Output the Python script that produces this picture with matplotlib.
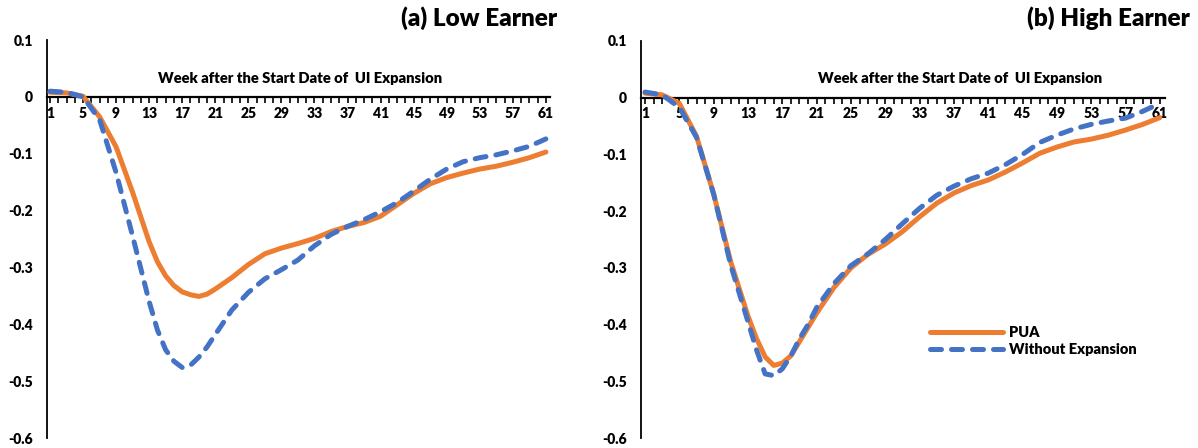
import matplotlib
matplotlib.use("Agg")
import matplotlib.pyplot as plt

plt.rcParams['font.family'] = ['Lato', 'DejaVu Sans']
plt.rcParams['font.weight'] = 'heavy'

# weeks (odd weeks, plus every week around the trough)
weeks = [1, 3, 5, 7, 9, 11, 13, 14, 15, 16, 17, 18, 19, 20, 21,
         23, 25, 27, 29, 31, 33, 35, 37, 39, 41, 43, 45, 47, 49,
         51, 53, 55, 57, 59, 61]

low_pua = [0.008, 0.007, 0.001, -0.035, -0.088, -0.168, -0.255, -0.29, -0.315,
           -0.332, -0.343, -0.348, -0.351, -0.347, -0.338,
           -0.318, -0.295, -0.276, -0.266, -0.258, -0.249, -0.237, -0.228,
           -0.221, -0.21, -0.19, -0.17, -0.153, -0.142,
           -0.134, -0.127, -0.122, -0.115, -0.107, -0.097]
low_without = [0.01, 0.008, 0.0, -0.04, -0.133, -0.245, -0.36, -0.41, -0.445,
               -0.465, -0.476, -0.472, -0.458, -0.44, -0.418,
               -0.375, -0.344, -0.32, -0.304, -0.287, -0.262, -0.242, -0.228,
               -0.216, -0.202, -0.186, -0.166, -0.145, -0.127,
               -0.114, -0.107, -0.102, -0.095, -0.087, -0.074]

high_pua = [0.008, 0.005, -0.01, -0.068, -0.17, -0.29, -0.385, -0.425, -0.457,
            -0.472, -0.468, -0.455, -0.43, -0.405, -0.38,
            -0.335, -0.3, -0.276, -0.258, -0.236, -0.21, -0.186, -0.168,
            -0.155, -0.145, -0.131, -0.115, -0.098, -0.087,
            -0.078, -0.073, -0.066, -0.057, -0.047, -0.035]
high_without = [0.01, 0.005, -0.017, -0.07, -0.17, -0.296, -0.395, -0.445, -0.487,
                -0.49, -0.478, -0.455, -0.425, -0.4, -0.37,
                -0.328, -0.296, -0.275, -0.25, -0.222, -0.195, -0.172, -0.156,
                -0.143, -0.133, -0.118, -0.1, -0.079, -0.066,
                -0.055, -0.047, -0.041, -0.036, -0.024, -0.01]

yticks = [0.1, 0, -0.1, -0.2, -0.3, -0.4, -0.5, -0.6]
ytick_labels = ['0.1', '0', '-0.1', '-0.2', '-0.3', '-0.4', '-0.5', '-0.6']
xlabel = 'Week after the Start Date of  UI Expansion'

ORANGE = '#ED7D31'
BLUE = '#4472C4'

W, H = 1198, 448
fig = plt.figure(figsize=(W / 100, H / 100), dpi=100)


def px_axes(x0, x1, y0, y1):
    # pixel box -> figure fraction
    return fig.add_axes([x0 / W, 1 - y1 / H, (x1 - x0) / W, (y1 - y0) / H])


def panel(ax, pua, without, xlim, label_x):
    ax.plot(weeks, pua, color=ORANGE, lw=3.6, solid_capstyle='round',
            solid_joinstyle='round', label='PUA', zorder=3)
    ax.plot(weeks, without, color=BLUE, lw=3.6, linestyle=(0, (2.2, 2.0)),
            dash_capstyle='round', dash_joinstyle='round', label='Without Expansion', zorder=4)
    ax.set_xlim(*xlim)
    ax.set_ylim(-0.6, 0.1)
    ax.spines['top'].set_visible(False)
    ax.spines['right'].set_visible(False)
    ax.spines['bottom'].set_position(('data', 0))
    ax.spines['bottom'].set_linewidth(1.6)
    ax.spines['left'].set_linewidth(1.3)
    ax.set_xticks(range(1, 62))
    ax.set_xticklabels([str(w) if (w - 1) % 4 == 0 else '' for w in range(1, 62)])
    ax.tick_params(axis='x', direction='out', length=4, width=1.2, pad=3, labelsize=10)
    ax.set_yticks(yticks)
    ax.set_yticklabels(ytick_labels)
    ax.tick_params(axis='y', length=0, pad=10, labelsize=10)
    for t in ax.get_xticklabels() + ax.get_yticklabels():
        t.set_fontweight('heavy')
    ax.text(label_x, 0.033, xlabel, ha='center', va='center', fontsize=10.6, fontweight='heavy')


ax1 = px_axes(47, 550, 40, 438)
panel(ax1, low_pua, low_without, (0.64, 61.5), 31.3)
fig.text(557 / W, 1 - 18 / H, '(a) Low Earner', ha='right', va='center', fontsize=17.5, fontweight='heavy')

ax2 = px_axes(641, 1165, 41, 438)
panel(ax2, high_pua, high_without, (0.53, 61.6), 37.7)
fig.text(1190 / W, 1 - 18 / H, '(b) High Earner', ha='right', va='center', fontsize=17.5, fontweight='heavy')

ax2.legend(loc='upper left', bbox_to_anchor=((930 - 641) / 524, (438 - 326) / 397), frameon=False,
           handlelength=5.0, handletextpad=0.4, labelspacing=0.25,
           borderaxespad=0, borderpad=0, prop={'weight': 'heavy', 'size': 10.5})

fig.savefig('out.png', dpi=100)
